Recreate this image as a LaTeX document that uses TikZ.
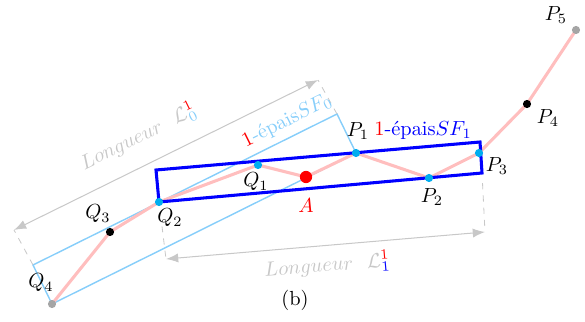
\documentclass[tikz,border=0pt]{standalone}
\usepackage{amsmath,amssymb}
\usepackage{xcolor}
\usepackage{tikz}
\usetikzlibrary{arrows.meta, calc}

\definecolor{bleuclair}{RGB}{135,206,250}
\definecolor{rosepale}{RGB}{255,190,190}
\definecolor{grisclair}{RGB}{200,200,200}
\definecolor{grispt}{RGB}{165,165,165}

\begin{document}
\begin{tikzpicture}[x=0.49pt,y=-0.49pt,
    pt/.style={circle, inner sep=0pt, minimum size=4pt},
    cote/.style={grisclair, line width=0.5pt, {Latex[length=6pt,width=4.5pt]}-{Latex[length=6pt,width=4.5pt]}},
    rappel/.style={grisclair, dashed, line width=0.4pt}]
  \useasboundingbox (0,0) rectangle (585,322);
  % points du chemin
  \coordinate (Q4) at (52,304);
  \coordinate (Q3) at (110,232);
  \coordinate (Q2) at (159,202);
  \coordinate (Q1) at (258,165);
  \coordinate (A) at (306,177);
  \coordinate (P1) at (356,153);
  \coordinate (P2) at (429,178);
  \coordinate (P3) at (479,153);
  \coordinate (P4) at (527,104);
  \coordinate (P5) at (576,30);
  % coins des rectangles
  \coordinate (a0) at (33,265);
  \coordinate (b0) at (337,114);
  \coordinate (a1) at (156,170);
  \coordinate (b1) at (480,142);
  \coordinate (c1) at (482,173);
  % bouts des cotes
  \coordinate (L0g) at (14,230);
  \coordinate (L0d) at (318,80);
  \coordinate (L1g) at (166,259);
  \coordinate (L1d) at (485,232);

  \draw[bleuclair, line width=0.7pt] (a0) -- (b0) -- (P1) -- (Q4) -- cycle;
  \draw[rosepale, line width=1.5pt] (Q4) -- (Q3) -- (Q2) -- (Q1) -- (A) -- (P1) -- (P2) -- (P3) -- (P4) -- (P5);
  \draw[blue, line width=1.5pt] (a1) -- (b1) -- (c1) -- (Q2) -- cycle;

  % cotes
  \draw[rappel] (a0) -- (L0g);
  \draw[rappel] (b0) -- (L0d);
  \draw[rappel, shorten <=12pt] (Q2) -- (L1g);
  \draw[rappel, shorten <=5pt] (c1) -- (L1d);
  \draw[cote] (L0g) -- node[sloped, above=5pt, pos=0.45] (lL0) {$Longueur\ \ {\mathcal{L}}^{\textcolor{red}{1}}_{\textcolor{bleuclair}{0}}$} (L0d);
  \draw[cote] (L1g) -- node[sloped, below=1pt, pos=0.5] (lL1) {$Longueur\ \ {\mathcal{L}}^{\textcolor{red}{1}}_{\textcolor{blue}{1}}$} (L1d);

  % points
  \node[pt, fill=grispt] (nQ4) at (Q4) {};
  \node[pt, fill=black] (nQ3) at (Q3) {};
  \node[pt, fill=cyan] (nQ2) at (Q2) {};
  \node[pt, fill=cyan] (nQ1) at (Q1) {};
  \node[pt, fill=red, minimum size=6pt] (nA) at (A) {};
  \node[pt, fill=cyan] (nP1) at (P1) {};
  \node[pt, fill=cyan] (nP2) at (P2) {};
  \node[pt, fill=cyan] (nP3) at (P3) {};
  \node[pt, fill=black] (nP4) at (P4) {};
  \node[pt, fill=grispt] (nP5) at (P5) {};

  % etiquettes
  \node (lQ4) at (41,283) {$Q_4$};
  \node (lQ3) at (98,214) {$Q_3$};
  \node (lQ2) at (170,218) {$Q_2$};
  \node (lQ1) at (256,182) {$Q_1$};
  \node[red] (lA) at (306,206) {$A$};
  \node (lP1) at (358,131) {$P_1$};
  \node (lP2) at (432,197) {$P_2$};
  \node (lP3) at (497,166) {$P_3$};
  \node (lP4) at (548,118) {$P_4$};
  \node (lP5) at (556,15) {$P_5$};
  \node[bleuclair, rotate=26.5] (lSF0) at (287,121) {{\color{red}1}-épais$SF_0$};
  \node[blue] (lSF1) at (423,130) {{\color{red}1}-épais$SF_1$};
  \node (lb) at (295,300) {(b)};
\end{tikzpicture}
\end{document}
